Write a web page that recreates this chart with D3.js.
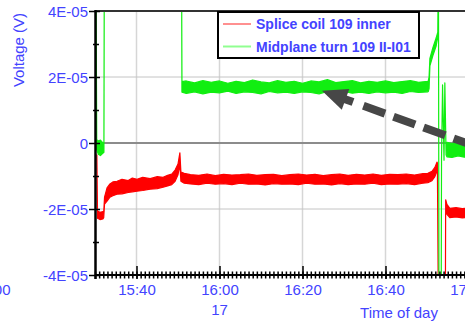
<!DOCTYPE html>
<html>
<head>
<meta charset="utf-8">
<script src="https://cdn.jsdelivr.net/npm/d3@7"></script>
<style>
  html, body { margin: 0; padding: 0; background: #fff; }
  svg { display: block; font-family: "Liberation Sans", Arial, sans-serif; }
</style>
</head>
<body>
<svg id="chart" width="465" height="323"></svg>
<script>
// Time is in minutes after 15:30, voltage in microvolts (1E-05 V = 10 uV).
// Each row is [minutes, low, high]: the envelope of the noisy trace.
const spliceCoil = [
  [0.45, -3.6, -3.6], [0.6, -22.8, -20.6], [1.2, -23.2, -21.0], [1.9, -23.0, -20.8],
  [2.1, -22.6, -21.0], [2.3, -18.5, -16.4], [2.9, -17.6, -13.6], [3.6, -16.4, -12.4],
  [4.3, -16.0, -11.8], [5.3, -15.5, -11.6], [6.5, -15.4, -11.0], [8.0, -15.0, -11.4],
  [9.0, -14.8, -10.6], [10.1, -14.6, -11.0], [11.5, -14.4, -10.4], [13.3, -14.0, -10.8],
  [15.0, -13.8, -10.2], [16.4, -13.4, -10.4], [17.5, -13.0, -9.8], [18.5, -12.6, -9.4],
  [19.3, -11.6, -8.2], [20.0, -9.6, -6.4], [20.45, -6.5, -3.0], [20.7, -11.6, -8.8],
  [21.5, -12.2, -9.2], [23, -12.4, -9.6], [25, -12.6, -9.8], [27, -12.2, -9.4],
  [29, -12.5, -9.9], [31, -12.3, -9.5], [33, -12.6, -9.7], [35, -12.2, -9.6],
  [37, -12.5, -9.4], [39, -12.4, -9.8], [41, -12.7, -9.6], [43, -12.3, -9.5],
  [45, -12.5, -9.9], [47, -12.4, -9.6], [49, -12.6, -9.4], [51, -12.2, -9.7],
  [53, -12.5, -9.5], [55, -12.4, -9.9], [57, -12.7, -9.6], [59, -12.3, -9.4],
  [61, -12.6, -9.8], [63, -12.4, -9.5], [65, -12.5, -9.7], [67, -12.2, -9.4],
  [69, -12.6, -9.8], [71, -12.4, -9.5], [73, -12.5, -9.6], [75, -12.3, -9.4],
  [77, -12.6, -9.7], [79, -12.2, -9.3], [80.2, -12.0, -9.2], [81.2, -11.4, -8.6],
  [81.9, -10.2, -7.4], [82.4, -8.4, -5.8], [82.5, -7.0, -6.0], [82.8, -60, -60],
  [84.4, -60, -60], [84.5, -17.2, -17.2], [84.8, -21.6, -18.6], [85.5, -22.6, -19.8],
  [87, -22.4, -19.6], [88.5, -22.7, -19.9], [90, -22.5, -19.7]
];

const midplaneTurn = [
  [0.2, 60, 60], [0.42, -2.0, 1.0], [0.8, -3.4, 0.6], [1.3, -3.8, 0.9],
  [1.8, -3.2, 0.2], [2.15, -2.8, -0.4], [2.25, 60, 60], [20.85, 60, 60],
  [20.95, 15.4, 18.6], [22, 15.0, 18.8], [24, 15.5, 18.2], [26, 14.9, 18.9],
  [28, 15.4, 18.4], [30, 15.2, 18.8], [32, 15.7, 18.1], [34, 15.0, 18.7],
  [36, 15.5, 18.3], [38, 15.3, 19.1], [40, 14.9, 18.5], [42, 15.6, 18.2],
  [44, 15.2, 18.9], [46, 15.4, 18.4], [48, 15.0, 18.7], [50, 15.5, 18.1],
  [52, 15.3, 18.8], [54, 14.9, 18.5], [56, 15.6, 19.2], [58, 15.2, 18.3],
  [60, 15.6, 18.6], [62, 15.1, 18.9], [64, 15.4, 18.2], [66, 15.0, 18.7],
  [68, 15.5, 18.4], [70, 15.2, 18.8], [72, 15.4, 18.3], [74, 15.0, 18.6],
  [76, 15.6, 18.9], [78, 15.3, 18.4], [80.2, 15.5, 18.7], [80.3, 15.6, 18.8],
  [80.5, 16.5, 20.0], [80.7, 23.4, 25.6], [81.4, 26.4, 28.8], [82.2, 29.4, 31.8],
  [82.6, 32.2, 33.6], [82.75, 60, 60], [82.9, -60, -60], [83.4, -60, -60],
  [83.5, -5.0, -5.0], [83.75, 17.6, 17.6], [84.1, -5.2, -5.2], [84.3, 18.2, 18.2],
  [84.6, -3.6, -3.6], [84.8, -4.2, 0.2], [86, -4.4, -0.2], [87.5, -3.9, 0.4],
  [89, -4.3, -0.1], [90, -4.0, 0.1]
];

const seriesNames = ["Splice coil 109 inner", "Midplane turn 109 II-I01"];
const seriesColors = ["#ff0000", "#11ee11"];
const legendColors = ["#ff9090", "#90ff90"];

const yTickValues = [-40, -20, 0, 20, 40];
const yTickLabels = ["-4E-05", "-2E-05", "0", "2E-05", "4E-05"];
const xTickLabels = ["15:40", "16:00", "16:20", "16:40", "17:00"];
const dateLabel = "17";
const xTitle = "Time of day";
const yTitle = "Voltage (V)";
const neighbourLabel = "17:00";

// Annotation arrow, [minutes, microvolts] for tail and tip
const arrowTail = [92.8, -1.5];
const arrowTip = [54.7, 15.8];

const start = new Date(2009, 8, 17, 15, 30);
const T = m => new Date(start.getTime() + m * 60000);
const parseHM = s => { const [h, mm] = s.split(":").map(Number); return new Date(2009, 8, 17, h, mm); };

const plotLeft = 95, plotTop = 11, plotBottom = 275;
const x = d3.scaleTime().domain([start, T(100)]).range([plotLeft, plotLeft + 415]);
const y = d3.scaleLinear().domain([-40, 40]).range([plotBottom, plotTop]);

const blue = "#4343ff";
const svg = d3.select("#chart");

svg.append("defs").append("clipPath").attr("id", "plot")
  .append("rect").attr("x", plotLeft).attr("y", plotTop).attr("width", 400).attr("height", plotBottom - plotTop);

// Grid
const grid = svg.append("g");
grid.selectAll("line.v").data(xTickLabels.slice(0, 4)).join("line")
  .attr("x1", d => x(parseHM(d))).attr("x2", d => x(parseHM(d)))
  .attr("y1", plotTop).attr("y2", plotBottom)
  .attr("stroke", "#d6d6d6").attr("stroke-width", 1.5);
grid.selectAll("line.h").data(yTickValues.filter(v => Math.abs(v) === 20)).join("line")
  .attr("x1", plotLeft).attr("x2", 465).attr("y1", d => y(d)).attr("y2", d => y(d))
  .attr("stroke", "#c4c4c4").attr("stroke-width", 1);
grid.append("line").attr("x1", plotLeft).attr("x2", 465).attr("y1", y(0)).attr("y2", y(0))
  .attr("stroke", "#8c8c8c").attr("stroke-width", 2);

// Traces
const area = d3.area().x(d => x(T(d[0]))).y0(d => y(d[1])).y1(d => y(d[2]));
const traces = svg.append("g").attr("clip-path", "url(#plot)");
[spliceCoil, midplaneTurn].forEach((s, i) => {
  traces.append("path").attr("d", area(s))
    .attr("fill", seriesColors[i]).attr("stroke", seriesColors[i])
    .attr("stroke-width", 1.2).attr("stroke-linejoin", "round");
});

// Annotation arrow
const tip = [x(T(arrowTip[0])), y(arrowTip[1])];
const tail = [x(T(arrowTail[0])), y(arrowTail[1])];
const dx = tail[0] - tip[0], dy = tail[1] - tip[1];
const len = Math.hypot(dx, dy), ux = dx / len, uy = dy / len;
const headLen = 25, headHalf = 11;
const base = [tip[0] + ux * headLen, tip[1] + uy * headLen];
const arrowColor = "#474747";
svg.append("line")
  .attr("x1", base[0] - ux * 2).attr("y1", base[1] - uy * 2)
  .attr("x2", tail[0]).attr("y2", tail[1])
  .attr("stroke", arrowColor).attr("stroke-width", 8)
  .attr("stroke-dasharray", "10,11,23,9,23,9,23,9,23,9");
svg.append("path")
  .attr("d", d3.line()([
    tip,
    [base[0] - uy * headHalf, base[1] + ux * headHalf],
    [base[0] + uy * headHalf, base[1] - ux * headHalf]
  ]) + "Z")
  .attr("fill", arrowColor);

// Frame lines
svg.append("line").attr("x1", plotLeft).attr("x2", 465).attr("y1", plotTop).attr("y2", plotTop)
  .attr("stroke", "#333").attr("stroke-width", 2);
svg.append("line").attr("x1", plotLeft).attr("x2", 465).attr("y1", plotBottom).attr("y2", plotBottom)
  .attr("stroke", "#000").attr("stroke-width", 2);
svg.append("line").attr("x1", plotLeft + 0.5).attr("x2", plotLeft + 0.5).attr("y1", plotTop - 1).attr("y2", plotBottom + 4)
  .attr("stroke", "#000").attr("stroke-width", 2.5);

// X axis: minute ticks and 20-minute labelled ticks
const xMinor = svg.append("g").attr("transform", `translate(0,${plotBottom - 3.5})`)
  .call(d3.axisBottom(x).ticks(d3.timeMinute.every(1)).tickSize(7).tickFormat(""));
xMinor.select(".domain").remove();
xMinor.selectAll("line").attr("stroke", "#000").attr("stroke-width", 1.5);

const xMajor = svg.append("g").attr("transform", `translate(0,${plotBottom - 9})`)
  .call(d3.axisBottom(x).tickValues(xTickLabels.map(parseHM)).tickSize(13)
    .tickFormat((d, i) => xTickLabels[i]));
xMajor.select(".domain").remove();
xMajor.selectAll("line").attr("stroke", "#000").attr("stroke-width", 1.5);
xMajor.selectAll("text").attr("y", 295 - (plotBottom - 9)).attr("dy", null)
  .attr("fill", blue).attr("font-size", 15).attr("font-family", null);

// Y axis
const yMinor = svg.append("g").attr("transform", `translate(${plotLeft + 4},0)`)
  .call(d3.axisLeft(y).tickValues(d3.range(-30, 40, 20)).tickSize(6).tickFormat(""));
yMinor.select(".domain").remove();
yMinor.selectAll("line").attr("stroke", "#000").attr("stroke-width", 1.5);

const yMajor = svg.append("g").attr("transform", `translate(${plotLeft + 5},0)`)
  .call(d3.axisLeft(y).tickValues(yTickValues).tickSize(11)
    .tickFormat((d, i) => yTickLabels[i]));
yMajor.select(".domain").remove();
yMajor.selectAll("line").attr("stroke", "#000").attr("stroke-width", 1.5);
yMajor.selectAll("text").attr("x", 88 - (plotLeft + 5)).attr("dy", "0.36em")
  .attr("fill", blue).attr("font-size", 15).attr("font-family", null);

// Titles
svg.append("text").attr("x", x(parseHM("16:00"))).attr("y", 315)
  .attr("text-anchor", "middle").attr("fill", blue).attr("font-size", 15).text(dateLabel);
svg.append("text").attr("x", 399).attr("y", 318)
  .attr("text-anchor", "middle").attr("fill", blue).attr("font-size", 15).text(xTitle);
svg.append("text").attr("transform", "translate(24,50) rotate(-90)")
  .attr("text-anchor", "middle").attr("fill", blue).attr("font-size", 15).text(yTitle);
svg.append("text").attr("x", 10.5).attr("y", 295)
  .attr("text-anchor", "end").attr("fill", blue).attr("font-size", 15).text(neighbourLabel);

// Legend
const lg = svg.append("g");
lg.append("rect").attr("x", 218).attr("y", 12).attr("width", 201).attr("height", 46)
  .attr("fill", "#fff").attr("stroke", "#000").attr("stroke-width", 2);
seriesNames.forEach((name, i) => {
  const cy = 24 + i * 22.5;
  lg.append("line").attr("x1", 223).attr("x2", 251).attr("y1", cy).attr("y2", cy)
    .attr("stroke", legendColors[i]).attr("stroke-width", 2);
  lg.append("text").attr("x", 256).attr("y", cy + 5)
    .attr("fill", blue).attr("font-size", 14).attr("font-weight", "bold").text(name);
});
</script>
</body>
</html>
